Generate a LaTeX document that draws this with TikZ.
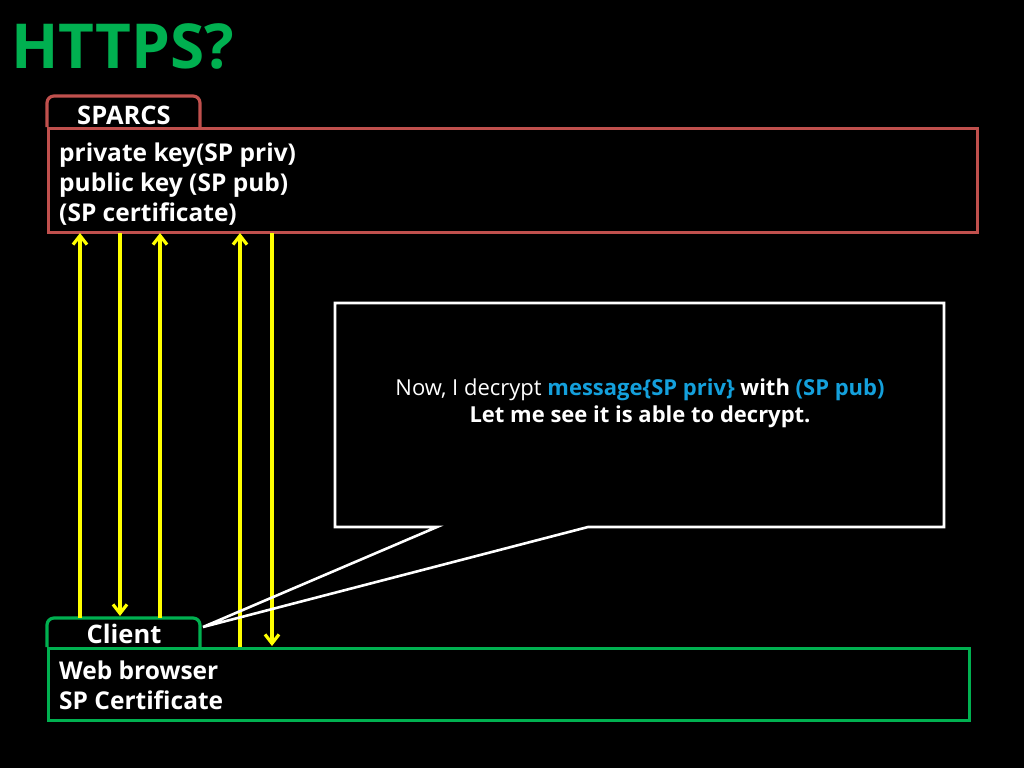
\documentclass[tikz,border=0pt]{standalone}
\usepackage{fontspec}
\setmainfont{Open Sans}
\usetikzlibrary{arrows.meta}
\definecolor{tgreen}{RGB}{0,176,80}
\definecolor{tred}{RGB}{192,80,77}
\definecolor{tblue}{RGB}{20,160,220}
\definecolor{tyellow}{RGB}{255,255,0}
\tikzset{
  lbl/.style={anchor=base west, inner sep=0pt, text=white, font=\fontsize{24.5}{28}\selectfont\bfseries},
  flow/.style={draw=tyellow, line width=3.2pt, -{Straight Barb[length=9pt,width=14pt,line width=3.2pt]}},
  redline/.style={draw=tred, line width=3.2pt},
  greenline/.style={draw=tgreen, line width=3.2pt},
}
\begin{document}
\begin{tikzpicture}[x=1pt,y=-1pt]
\fill[black] (0,0) rectangle (1024,768);
\useasboundingbox (0,0) rectangle (1024,768);
% title
\node[anchor=base west, inner sep=0pt, text=tgreen, font=\fontsize{62}{70}\selectfont\bfseries] (title) at (11,68) {HTTPS?};
% SPARCS box
\node[redline, rectangle, minimum width=929pt, minimum height=104pt, anchor=north west, inner sep=0pt] (sp) at (47,127) {};
\draw[redline, rounded corners=7pt] (sp.north west) -- (47,96) -- (200,96) -- (200,127);
\node[lbl, anchor=base, font=\fontsize{25.5}{28}\selectfont\bfseries] (sptitle) at (124,124) {SPARCS};
\node[lbl] (sp1) at (59,161) {private key(SP priv)};
\node[lbl] (sp2) at (59,191) {public key (SP pub)};
\node[lbl] (sp3) at (59,221) {(SP certificate)};
% Client box
\node[greenline, rectangle, minimum width=921pt, minimum height=72pt, anchor=north west, inner sep=0pt] (cl) at (47,647) {};
\draw[greenline, rounded corners=7pt] (cl.north west) -- (47,618) -- (200,618) -- (200,647);
\node[lbl, anchor=base, font=\fontsize{25.5}{28}\selectfont\bfseries] (cltitle) at (124,643) {Client};
\node[lbl] (cl1) at (59,679) {Web browser};
\node[lbl] (cl2) at (59,709) {SP Certificate};
% arrows
\coordinate (a1b) at (80,618); \coordinate (a1t) at (80,233);
\coordinate (a2b) at (120,616); \coordinate (a2t) at (120,233);
\coordinate (a3b) at (160,618); \coordinate (a3t) at (160,233);
\coordinate (a4b) at (240,647); \coordinate (a4t) at (240,233);
\coordinate (a5b) at (272,646); \coordinate (a5t) at (272,233);
\draw[flow] (a1b) -- (a1t);
\draw[flow] (a2t) -- (a2b);
\draw[flow] (a3b) -- (a3t);
\draw[flow] (a4b) -- (a4t);
\draw[flow] (a5t) -- (a5b);
% callout
\coordinate (c1) at (335,303); \coordinate (c2) at (944,303);
\coordinate (c3) at (944,527); \coordinate (c4) at (588,527);
\coordinate (tip) at (203,627); \coordinate (c5) at (437,527);
\coordinate (c6) at (335,527);
\draw[white, line width=2.6pt, line join=miter] (c1) -- (c2) -- (c3) -- (c4) -- (tip) -- (c5) -- (c6) -- cycle;
\node[anchor=base, inner sep=0pt, text=white, font=\fontsize{22}{26}\selectfont] (m1) at (640,395)
  {\fontseries{l}\selectfont Now, I decrypt \bfseries\color{tblue}message\{SP priv\} \color{white}with \color{tblue}(SP pub)};
\node[anchor=base, inner sep=0pt, text=white, font=\fontsize{22}{26}\selectfont\bfseries] (m2) at (640,422)
  {Let me see it is able to decrypt.};
\end{tikzpicture}
\end{document}
